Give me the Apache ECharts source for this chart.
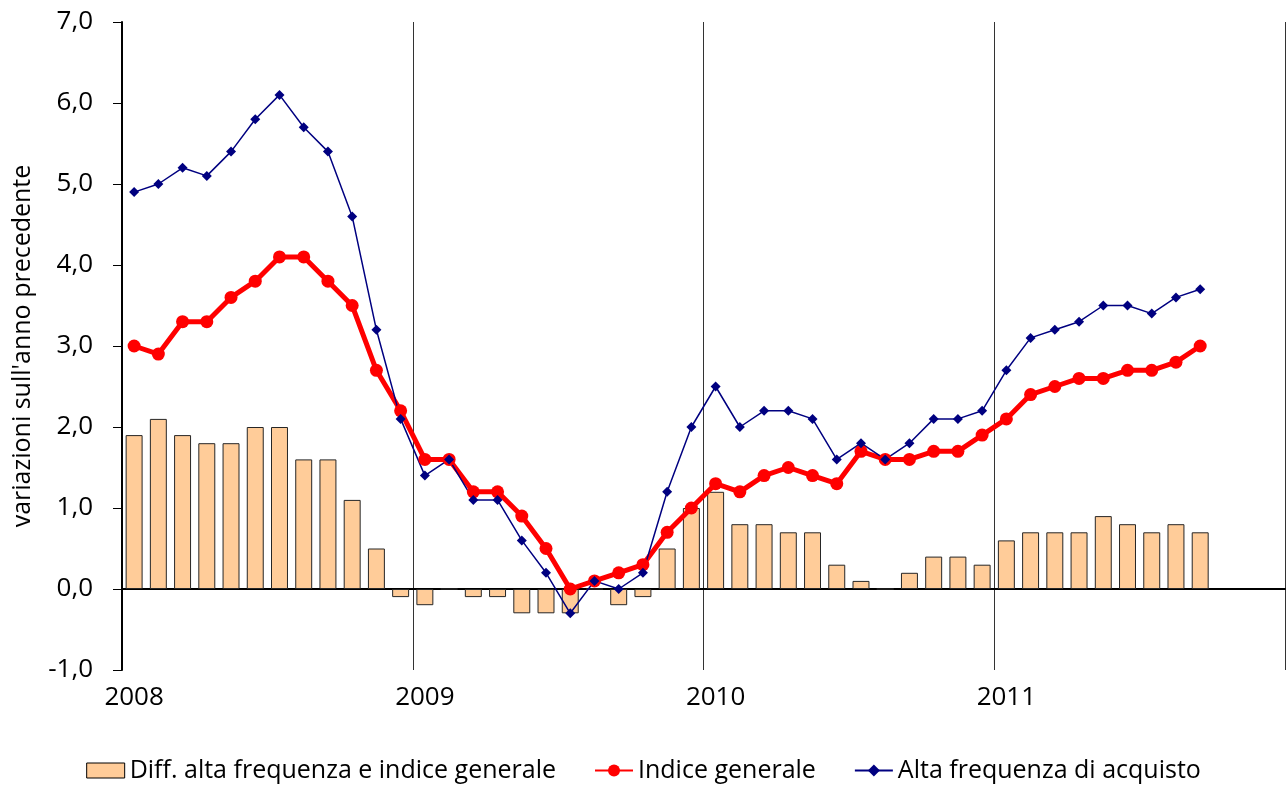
<!DOCTYPE html>
<html>
<head>
<meta charset="utf-8">
<script src="https://cdn.jsdelivr.net/npm/echarts@6/dist/echarts.min.js"></script>
<style>
  html, body { margin: 0; padding: 0; background: #fff; }
  #chart { width: 1287px; height: 788px; }
</style>
</head>
<body>
<div id="chart"></div>
<script>
// anni sull'asse (4 anni, 12 mesi ciascuno)
const years = ['2008', '2009', '2010', '2011'];
const monthNames = ['01', '02', '03', '04', '05', '06', '07', '08', '09', '10', '11', '12'];
const categories = [];
years.forEach(y => monthNames.forEach(m => categories.push(y + '-' + m)));

// gen 2008 - set 2011
const indiceGenerale = [
  3.0, 2.9, 3.3, 3.3, 3.6, 3.8, 4.1, 4.1, 3.8, 3.5, 2.7, 2.2,
  1.6, 1.6, 1.2, 1.2, 0.9, 0.5, 0.0, 0.1, 0.2, 0.3, 0.7, 1.0,
  1.3, 1.2, 1.4, 1.5, 1.4, 1.3, 1.7, 1.6, 1.6, 1.7, 1.7, 1.9,
  2.1, 2.4, 2.5, 2.6, 2.6, 2.7, 2.7, 2.8, 3.0
];
const altaFrequenza = [
  4.9, 5.0, 5.2, 5.1, 5.4, 5.8, 6.1, 5.7, 5.4, 4.6, 3.2, 2.1,
  1.4, 1.6, 1.1, 1.1, 0.6, 0.2, -0.3, 0.1, 0.0, 0.2, 1.2, 2.0,
  2.5, 2.0, 2.2, 2.2, 2.1, 1.6, 1.8, 1.6, 1.8, 2.1, 2.1, 2.2,
  2.7, 3.1, 3.2, 3.3, 3.5, 3.5, 3.4, 3.6, 3.7
];
const differenza = [
  1.9, 2.1, 1.9, 1.8, 1.8, 2.0, 2.0, 1.6, 1.6, 1.1, 0.5, -0.1,
  -0.2, 0.0, -0.1, -0.1, -0.3, -0.3, -0.3, 0.0, -0.2, -0.1, 0.5, 1.0,
  1.2, 0.8, 0.8, 0.7, 0.7, 0.3, 0.1, 0.0, 0.2, 0.4, 0.4, 0.3,
  0.6, 0.7, 0.7, 0.7, 0.9, 0.8, 0.7, 0.8, 0.7
];

const FONT = 'Open Sans';

const chart = echarts.init(document.getElementById('chart'));
chart.setOption({
  animation: false,
  textStyle: { fontFamily: FONT, color: '#000' },
  grid: { left: 122, right: 2, top: 22, bottom: 118, containLabel: false },
  legend: {
    bottom: 0,
    left: 'center',
    itemGap: 38,
    itemWidth: 38,
    itemHeight: 15,
    textStyle: { fontSize: 25, fontFamily: FONT, color: '#000' },
    data: [
      { name: 'Diff. alta frequenza e indice generale', icon: 'rect', itemStyle: { borderColor: '#000', borderWidth: 1 } },
      'Indice generale',
      'Alta frequenza di acquisto'
    ]
  },
  xAxis: [
    {
      // linea dello zero e separatori annuali
      type: 'category',
      data: categories,
      boundaryGap: true,
      axisLine: { onZero: true, lineStyle: { color: '#000', width: 2 } },
      axisTick: { show: false },
      axisLabel: { show: false },
      splitLine: {
        show: true,
        interval: (i) => i % 12 === 0,
        lineStyle: { color: '#333', width: 1 }
      }
    },
    {
      // etichette degli anni
      type: 'category',
      data: categories,
      position: 'bottom',
      boundaryGap: true,
      axisLine: { show: false, onZero: false },
      axisTick: { show: false },
      axisLabel: {
        interval: (i) => i % 12 === 0,
        formatter: (v) => v.slice(0, 4),
        fontSize: 26,
        color: '#000',
        margin: 15
      }
    }
  ],
  yAxis: {
    type: 'value',
    min: -1,
    max: 7,
    interval: 1,
    name: "variazioni sull'anno precedente",
    nameLocation: 'middle',
    nameGap: 87,
    nameTextStyle: { fontSize: 25, color: '#000' },
    axisLine: { show: true, onZero: false, lineStyle: { color: '#000', width: 2 } },
    axisTick: { show: true, length: 9, lineStyle: { color: '#000', width: 1 } },
    axisLabel: {
      fontSize: 26,
      color: '#000',
      margin: 29,
      formatter: (v) => v.toFixed(1).replace('.', ',')
    },
    splitLine: { show: false }
  },
  series: [
    {
      name: 'Diff. alta frequenza e indice generale',
      type: 'bar',
      data: differenza,
      barWidth: '70%',
      itemStyle: { color: '#FFCC99', borderColor: '#262626', borderWidth: 1 }
    },
    {
      name: 'Indice generale',
      type: 'line',
      data: indiceGenerale,
      symbol: 'circle',
      symbolSize: 13,
      lineStyle: { color: '#FF0000', width: 5 },
      itemStyle: { color: '#FF0000' }
    },
    {
      name: 'Alta frequenza di acquisto',
      type: 'line',
      data: altaFrequenza,
      symbol: 'diamond',
      symbolSize: 10,
      lineStyle: { color: '#000080', width: 1.5 },
      itemStyle: { color: '#000080' }
    }
  ]
});
</script>
</body>
</html>
